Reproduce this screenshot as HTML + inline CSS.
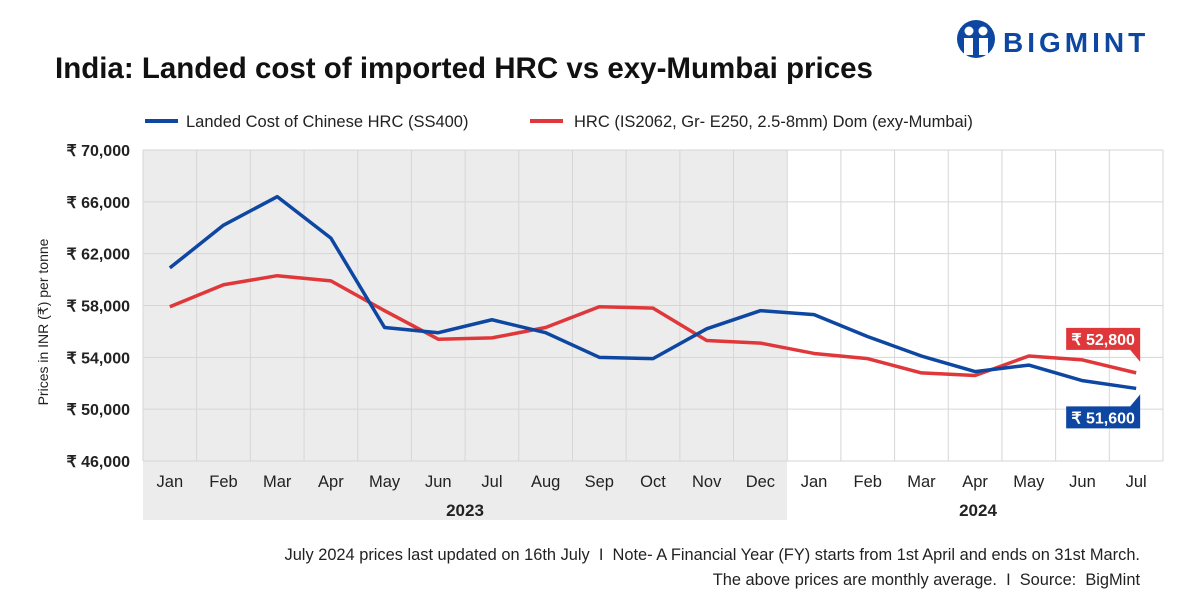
<!DOCTYPE html>
<html><head><meta charset="utf-8"><style>
body{margin:0;background:#fff;font-family:"Liberation Sans",sans-serif;}
svg text{font-family:"Liberation Sans",sans-serif;}
</style></head><body>
<svg id="c" width="1200" height="600" xmlns="http://www.w3.org/2000/svg">
<rect width="1200" height="600" fill="#fff"/>
<g>
<circle cx="976" cy="39" r="19" fill="#0d47a1"/>
<circle cx="969" cy="31" r="4.5" fill="#fff"/><circle cx="983" cy="31" r="4.5" fill="#fff"/>
<path d="M964 38 h9 v17 h-9z M979 38 h9 v17 h-9z" fill="#fff"/>
<text x="1003" y="52" font-size="28" font-weight="bold" fill="#0d47a1" letter-spacing="4">BIGMINT</text>
</g>
<text x="55" y="78" font-size="29.5" font-weight="bold" fill="#111">India: Landed cost of imported HRC vs exy-Mumbai prices</text>
<g>
<line x1="145" y1="121" x2="178" y2="121" stroke="#0d47a1" stroke-width="4"/>
<text x="186" y="127" font-size="16.5" fill="#222">Landed Cost of Chinese HRC (SS400)</text>
<line x1="530" y1="121" x2="563" y2="121" stroke="#e0383a" stroke-width="4"/>
<text x="574" y="127" font-size="16.5" fill="#222">HRC (IS2062, Gr- E250, 2.5-8mm) Dom (exy-Mumbai)</text>
</g>
<rect x="143" y="150" width="644" height="370" fill="#ececec"/>
<g id="grid"></g>
<g id="lines"></g>
<text transform="translate(48,322) rotate(-90)" text-anchor="middle" font-size="14" fill="#222">Prices in INR (₹) per tonne</text>
<text x="465" y="516" text-anchor="middle" font-size="17" font-weight="bold" fill="#222">2023</text>
<text x="978" y="516" text-anchor="middle" font-size="17" font-weight="bold" fill="#222">2024</text>
<text x="1140" y="560" text-anchor="end" font-size="16.4" fill="#222" xml:space="preserve">July 2024 prices last updated on 16th July  I  Note- A Financial Year (FY) starts from 1st April and ends on 31st March.</text>
<text x="1140" y="585" text-anchor="end" font-size="16.4" fill="#222" xml:space="preserve">The above prices are monthly average.  I  Source:  BigMint</text>
</svg>
<script>
const months=["Jan","Feb","Mar","Apr","May","Jun","Jul","Aug","Sep","Oct","Nov","Dec","Jan","Feb","Mar","Apr","May","Jun","Jul"];
const landedCost=[60900,64200,66400,63200,56300,55900,56900,55900,54000,53900,56200,57600,57300,55600,54100,52900,53400,52200,51600];
const domPrice=[57900,59600,60300,59900,57600,55400,55500,56300,57900,57800,55300,55100,54300,53900,52800,52600,54100,53800,52800];
const yTicks=[46000,50000,54000,58000,62000,66000,70000];
const NS="http://www.w3.org/2000/svg";
const X0=143,X1=1163,Y0=461,Y1=150,YMIN=46000,YMAX=70000;
const bw=(X1-X0)/months.length;
const xs=i=>X0+bw*(i+0.5);
const ys=v=>Y0-(v-YMIN)/(YMAX-YMIN)*(Y0-Y1);
const fmt=v=>v.toLocaleString("en-US");
function mk(t,a,p){const e=document.createElementNS(NS,t);for(const k in a)e.setAttribute(k,a[k]);p.appendChild(e);return e;}
const g=document.getElementById("grid"),L=document.getElementById("lines");
yTicks.forEach(v=>{
 const l=mk("line",{x1:X0,x2:X1,y1:ys(v),y2:ys(v),stroke:"#d6d6d6","stroke-width":1},g);
 
 
 const t=mk("text",{x:130,y:ys(v)+6,"text-anchor":"end","font-size":16,"font-weight":"bold",fill:"#222"},g);
 t.textContent="₹ "+fmt(v);
 
 
});
for(let i=0;i<=months.length;i++){
 const l=mk("line",{x1:X0+bw*i,x2:X0+bw*i,y1:Y1,y2:Y0,stroke:"#d6d6d6","stroke-width":1},g);
 
 
}
months.forEach((m,i)=>{
 const t=mk("text",{x:xs(i),y:487,"text-anchor":"middle","font-size":16.5,fill:"#222"},g);
 t.textContent=m;
 
 
});
function series(d,c,n){
 const p=mk("polyline",{points:d.map((v,i)=>xs(i)+","+ys(v)).join(" "),fill:"none",stroke:c,"stroke-width":3.5,"stroke-linejoin":"round"},L);
 
 
}
series(domPrice,"#e0383a","line-dom-price");
series(landedCost,"#0d47a1","line-landed-cost");
function callout(d,c,n,above){
 const i=d.length-1,x=xs(i),y=ys(d[i]);
 const w=74,h=22,bx=x-w+4,by=above?y-45:y+18;
 const pth=above?`M${bx} ${by} h${w} v${h+12} l-10 -12 h-${w-10}z`:`M${bx} ${by} h${w-10} l10 -12 v${h+12} h-${w}z`;
 const gg=mk("g",{},L);
 
 
 mk("path",{d:pth,fill:c},gg);
 const t=mk("text",{x:bx+w/2,y:by+17,"text-anchor":"middle","font-size":16,"font-weight":"bold",fill:"#fff"},gg);
 t.textContent="₹ "+fmt(d[i]);
}
callout(domPrice,"#e0383a","callout-dom-price",true);
callout(landedCost,"#0d47a1","callout-landed-cost",false);
</script>
</body></html>
